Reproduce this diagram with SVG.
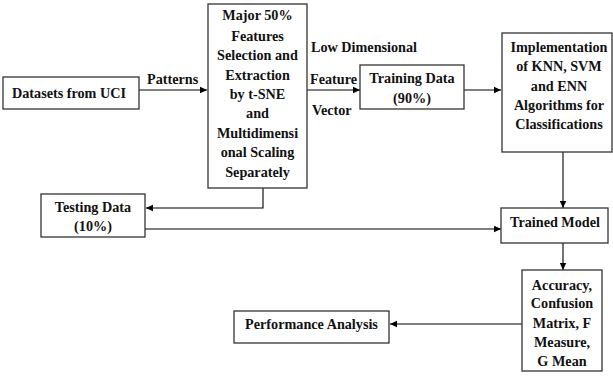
<svg xmlns="http://www.w3.org/2000/svg" width="613" height="376" viewBox="0 0 613 376">
<style>
rect.box{fill:#fff;stroke:#333;stroke-width:1.3}
text{font-family:"Liberation Serif","Times New Roman",serif;font-weight:bold;font-size:14.2px;fill:#111;text-anchor:middle}
text.l{text-anchor:start}
.c path{fill:none;stroke:#000;stroke-width:1.1}
</style>
<defs>
<marker id="ah" markerWidth="8" markerHeight="8" refX="7" refY="4" orient="auto" markerUnits="userSpaceOnUse">
<path d="M0,0.8 L7,4 L0,7.2 Z" fill="#000"/>
</marker>
</defs>
<g class="c">
<path d="M139,90 H207" marker-end="url(#ah)"/>
<path d="M307,90 H360" marker-end="url(#ah)"/>
<path d="M464,90 H501" marker-end="url(#ah)"/>
<path d="M263,188 V208 H146" marker-end="url(#ah)"/>
<path d="M145,229 H501" marker-end="url(#ah)"/>
<path d="M563,152 V208" marker-end="url(#ah)"/>
<path d="M563,243 V270" marker-end="url(#ah)"/>
<path d="M522,324 H390" marker-end="url(#ah)"/>
</g>
<g>
<text class="l" x="147" y="84">Patterns</text>
<text class="l" x="311" y="52">Low Dimensional</text>
<text class="l" x="310" y="84">Feature</text>
<text class="l" x="312" y="115">Vector</text>
</g>
<g id="datasets">
<rect class="box" x="3" y="77" width="136" height="32"/>
<text x="69" y="98">Datasets from UCI</text>
</g>
<g id="features">
<rect class="box" x="208" y="4" width="99" height="184"/>
<text x="257.5" y="20">Major 50%</text>
<text x="257.5" y="41">Features</text>
<text x="257.5" y="60">Selection and</text>
<text x="257.5" y="80">Extraction</text>
<text x="257.5" y="99">by t-SNE</text>
<text x="257.5" y="118">and</text>
<text x="257.5" y="138">Multidimensi</text>
<text x="257.5" y="157">onal Scaling</text>
<text x="257.5" y="177">Separately</text>
</g>
<g id="training">
<rect class="box" x="360" y="65" width="104" height="44"/>
<text x="412" y="83">Training Data</text>
<text x="412" y="103">(90%)</text>
</g>
<g id="implementation">
<rect class="box" x="502" y="33" width="110" height="119"/>
<text x="559" y="52">Implementation</text>
<text x="559" y="71">of KNN, SVM</text>
<text x="559" y="91">and ENN</text>
<text x="559" y="110">Algorithms for</text>
<text x="559" y="129">Classifications</text>
</g>
<g id="testing">
<rect class="box" x="41" y="194" width="104" height="43"/>
<text x="93" y="212">Testing Data</text>
<text x="93" y="231">(10%)</text>
</g>
<g id="trained">
<rect class="box" x="501" y="208" width="107" height="35"/>
<text x="555" y="227">Trained Model</text>
</g>
<g id="metrics">
<rect class="box" x="522" y="270" width="80" height="101"/>
<text x="562" y="290">Accuracy,</text>
<text x="562" y="308">Confusion</text>
<text x="562" y="328">Matrix, F</text>
<text x="562" y="347">Measure,</text>
<text x="562" y="366">G Mean</text>
</g>
<g id="performance">
<rect class="box" x="234" y="311" width="155" height="32"/>
<text x="311.5" y="329">Performance Analysis</text>
</g>
</svg>
